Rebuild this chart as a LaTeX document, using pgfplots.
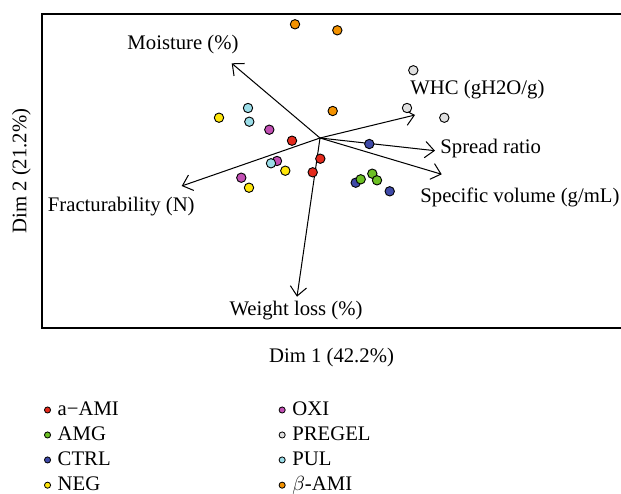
\documentclass[border=0pt]{standalone}
\usepackage{pgfplots}
\pgfplotsset{compat=1.18}
\usetikzlibrary{arrows.meta}
\usepackage{fontspec}
\setmainfont{Liberation Serif}[Scale=1.015]

\definecolor{cAMI}{HTML}{E42A1C}
\definecolor{cAMG}{HTML}{6CC024}
\definecolor{cCTRL}{HTML}{3F4AA8}
\definecolor{cNEG}{HTML}{FFE60A}
\definecolor{cOXI}{HTML}{C250B4}
\definecolor{cPREGEL}{HTML}{E0E0E0}
\definecolor{cPUL}{HTML}{9BDDE8}
\definecolor{cBAMI}{HTML}{F39200}

\tikzset{lab/.style={inner sep=0pt, anchor=west}}

\begin{document}
\begin{tikzpicture}
% 1 px of the reference = 0.49pt
\useasboundingbox (-20.58pt,-80.85pt) rectangle (283.71pt,160.72pt);
\begin{axis}[
    scale only axis,
    width=283.71pt, height=153.86pt,
    xmin=-2.78, xmax=3.01, ymin=-1.90, ymax=1.24,
    axis line style={draw=none},
    xtick=\empty, ytick=\empty,
    clip=false,
    xlabel={Dim 1 (42.2\%)},
    ylabel={Dim 2 (21.2\%)},
    every axis x label/.style={at={(axis description cs:0.5,-0.095)}, anchor=center},
    every axis y label/.style={at={(axis description cs:-0.0354,0.5)}, rotate=90, anchor=center},
    pts/.style={only marks, mark=*, mark size=2.3pt, mark options={draw=black, line width=0.45pt}},
    vec/.style={black, line width=0.5pt, -{Straight Barb[length=4.5pt,width=8pt]}, forget plot},
    legend image code/.code={\draw[mark size=1.5pt, line width=0.4pt, #1] plot coordinates {(0pt,0pt)};
        \path[draw=none, fill=none] (0pt,0pt) -- (3pt,0pt);},
    legend columns=2,
    legend style={
        at={(axis description cs:-0.007,-0.207)}, anchor=north west,
        draw=none, fill=none,
        nodes={inner sep=2pt},
        /tikz/every even column/.append style={column sep=76.5pt},
    },
    legend cell align=left,
]

% loading vectors
\addplot[vec] coordinates {(0,0) (-0.883,0.747)};  % Moisture
\addplot[vec] coordinates {(0,0) (0.95,0.23)};     % WHC
\addplot[vec] coordinates {(0,0) (1.15,-0.127)};   % Spread ratio
\addplot[vec] coordinates {(0,0) (1.217,-0.363)};  % Specific volume
\addplot[vec] coordinates {(0,0) (-1.383,-0.48)};  % Fracturability
\addplot[vec] coordinates {(0,0) (-0.23,-1.587)};  % Weight loss

\node[lab, anchor=center] at (axis cs:-1.37,0.93) {Moisture (\%)};
\node[lab] at (axis cs:0.90,0.487) {WHC (gH2O/g)};
\node[lab] at (axis cs:1.20,-0.103) {Spread ratio};
\node[lab] at (axis cs:1.0,-0.595) {Specific volume (g/mL)};
\node[lab] at (axis cs:-2.725,-0.687) {Fracturability (N)};
\node[lab, anchor=center] at (axis cs:-0.24,-1.73) {Weight loss (\%)};

% samples
\addplot[pts, fill=cAMI, forget plot] coordinates {(-0.28,-0.027) (0.003,-0.207) (-0.073,-0.343)};
\addplot[pts, fill=cCTRL, forget plot] coordinates {(0.493,-0.06) (0.357,-0.447) (0.697,-0.533)};
\addplot[pts, fill=cAMG, forget plot] coordinates {(0.407,-0.413) (0.523,-0.357) (0.57,-0.423)};
\addplot[pts, fill=cNEG, forget plot] coordinates {(-1.01,0.203) (-0.347,-0.327) (-0.71,-0.497)};
\addplot[pts, fill=cOXI, forget plot] coordinates {(-0.507,0.083) (-0.43,-0.23) (-0.787,-0.397)};
\addplot[pts, fill=cPREGEL, forget plot] coordinates {(0.933,0.677) (0.87,0.30) (1.243,0.203)};
\addplot[pts, fill=cPUL, forget plot] coordinates {(-0.72,0.30) (-0.707,0.163) (-0.49,-0.253)};
\addplot[pts, fill=cBAMI, forget plot] coordinates {(-0.25,1.137) (0.173,1.077) (0.127,0.27)};

% legend, filled row by row
\addlegendimage{mark=*, draw=black, fill=cAMI}    \addlegendentry{a−AMI}
\addlegendimage{mark=*, draw=black, fill=cOXI}    \addlegendentry{OXI}
\addlegendimage{mark=*, draw=black, fill=cAMG}    \addlegendentry{AMG}
\addlegendimage{mark=*, draw=black, fill=cPREGEL} \addlegendentry{PREGEL}
\addlegendimage{mark=*, draw=black, fill=cCTRL}   \addlegendentry{CTRL}
\addlegendimage{mark=*, draw=black, fill=cPUL}    \addlegendentry{PUL}
\addlegendimage{mark=*, draw=black, fill=cNEG}    \addlegendentry{NEG}
\addlegendimage{mark=*, draw=black, fill=cBAMI}   \addlegendentry{$\beta$-AMI}

% frame: left, top and bottom only
\draw[line width=0.6pt] (rel axis cs:1,1) -- (rel axis cs:0,1) -- (rel axis cs:0,0) -- (rel axis cs:1,0);
\end{axis}
\end{tikzpicture}
\end{document}
